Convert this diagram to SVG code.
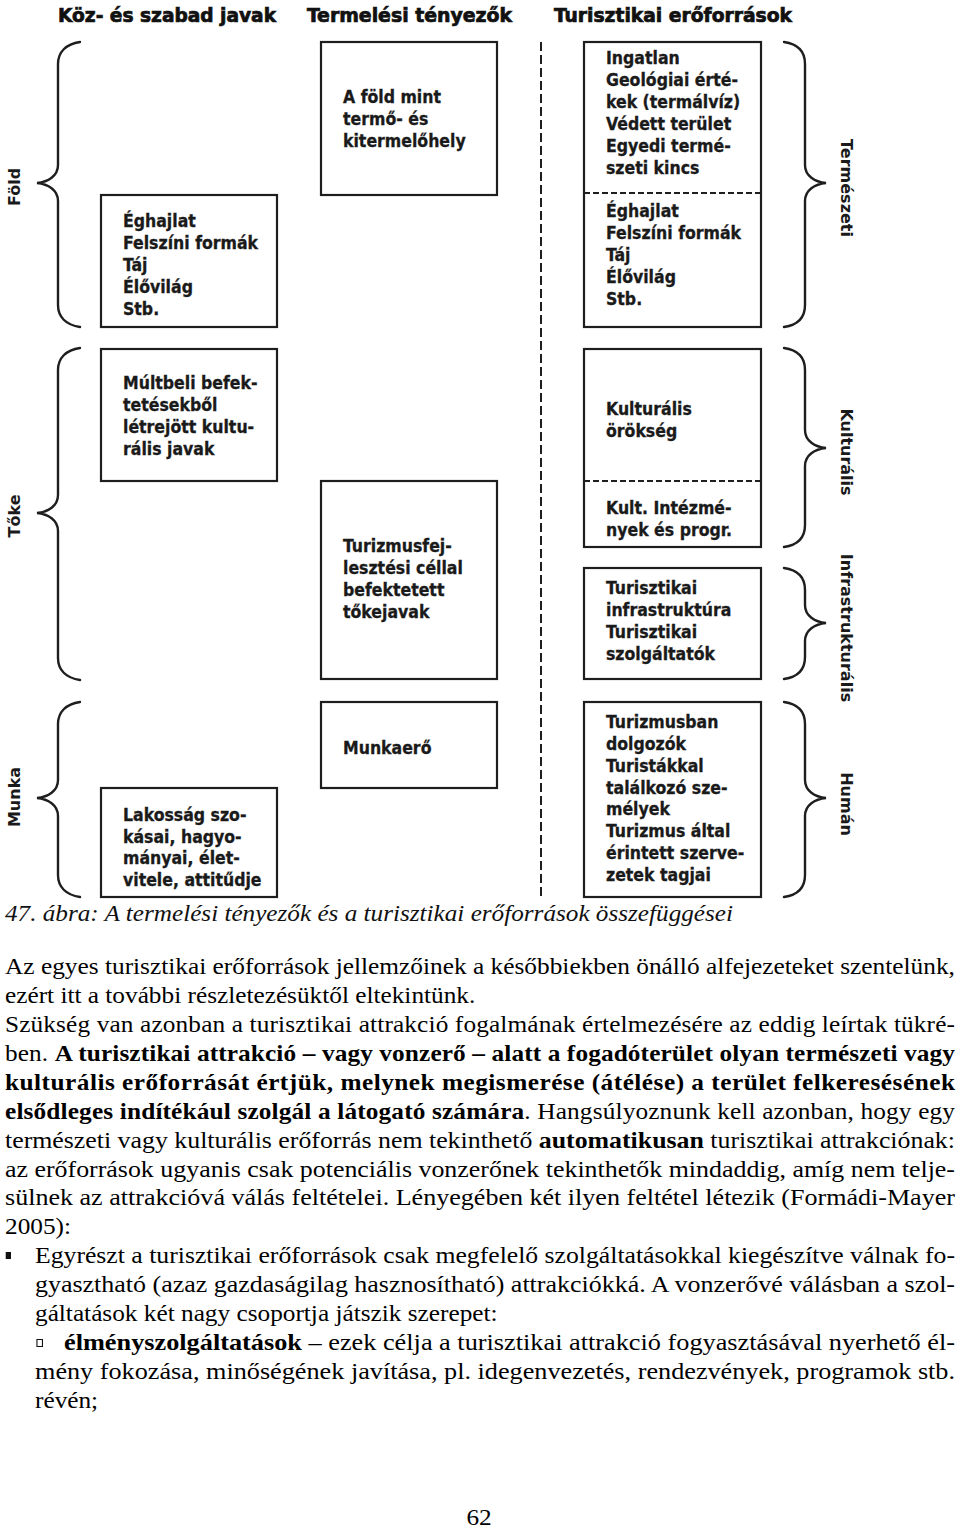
<svg xmlns="http://www.w3.org/2000/svg" width="960" height="1528" viewBox="0 0 960 1528">
<style>
.bg{fill:#fff}
.box{fill:#fff;stroke:#1e1e1e;stroke-width:2.2}
.sep{stroke:#1e1e1e;stroke-width:1.8;stroke-dasharray:6 3;fill:none}
.div{stroke:#1e1e1e;stroke-width:2;stroke-dasharray:9 4;fill:none}
.brace{fill:none;stroke:#1e1e1e;stroke-width:2.4;stroke-linecap:round}
.t{font-family:"DejaVu Sans Condensed","DejaVu Sans","Liberation Sans",sans-serif;font-weight:bold;font-size:17.5px;fill:#1a1a1a;stroke:#1a1a1a;stroke-width:0.3}
.h{font-family:"DejaVu Sans Condensed","DejaVu Sans","Liberation Sans",sans-serif;font-weight:bold;font-size:20px;fill:#111;stroke:#111;stroke-width:0.7}
.lab{font-family:"DejaVu Sans","Liberation Sans",sans-serif;font-weight:bold;font-size:16px;fill:#1a1a1a;text-anchor:middle}
.p{font-family:"Liberation Serif","Times New Roman",serif;font-size:23px;fill:#000}
.b{font-weight:bold}
.cap{font-family:"Liberation Serif","Times New Roman",serif;font-style:italic;font-size:23px;fill:#111}
</style>
<rect class="bg" x="0" y="0" width="960" height="1528"/>

<g id="headers">
<text class="h" x="58" y="22" textLength="218" lengthAdjust="spacingAndGlyphs">Köz- és szabad javak</text>
<text class="h" x="307" y="22" textLength="205" lengthAdjust="spacingAndGlyphs">Termelési tényezők</text>
<text class="h" x="554" y="22" textLength="238" lengthAdjust="spacingAndGlyphs">Turisztikai erőforrások</text>
</g>

<g id="divider"><line class="div" x1="541" y1="42" x2="541" y2="897"/></g>

<g id="connectors">
<path class="brace" d="M80,42 C66,44 58,52 58,64 L58,165 C58,176 48,182 37,183 C48,184 58,190 58,201 L58,305 C58,317 66,325 80,327"/>
<path class="brace" d="M80,348 C66,350 58,358 58,370 L58,495 C58,506 48,512 37,513 C48,514 58,520 58,531 L58,658 C58,670 66,678 80,680"/>
<path class="brace" d="M80,702 C66,704 58,712 58,724 L58,780 C58,791 48,797 37,798 C48,799 58,805 58,816 L58,875 C58,887 66,895 80,897"/>
<path class="brace" d="M784,42 C798,44 805,52 805,64 L805,165 C805,176 815,182 826,183 C815,184 805,190 805,201 L805,305 C805,317 798,325 784,327"/>
<path class="brace" d="M784,348 C798,350 805,358 805,370 L805,430 C805,441 815,447 826,448 C815,449 805,455 805,466 L805,525 C805,537 798,545 784,547"/>
<path class="brace" d="M784,568 C798,570 805,578 805,590 L805,605 C805,616 815,622 826,623 C815,624 805,630 805,641 L805,657 C805,669 798,677 784,679"/>
<path class="brace" d="M784,702 C798,704 805,712 805,724 L805,780 C805,791 815,797 826,798 C815,799 805,805 805,816 L805,875 C805,887 798,895 784,897"/>
</g>

<g id="labels">
<text class="lab" transform="translate(20,187) rotate(-90)">Föld</text>
<text class="lab" transform="translate(20,516) rotate(-90)">Tőke</text>
<text class="lab" transform="translate(20,797) rotate(-90)">Munka</text>
<text class="lab" transform="translate(841,188) rotate(90)">Természeti</text>
<text class="lab" transform="translate(841,452) rotate(90)">Kulturális</text>
<text class="lab" transform="translate(841,628) rotate(90)">Infrastrukturális</text>
<text class="lab" transform="translate(841,804) rotate(90)">Humán</text>
</g>

<g id="node-fold-javak">
<rect class="box" x="101" y="195" width="176" height="132"/>
<text class="t" x="123" y="227">Éghajlat</text>
<text class="t" x="123" y="249">Felszíni formák</text>
<text class="t" x="123" y="271">Táj</text>
<text class="t" x="123" y="293">Élővilág</text>
<text class="t" x="123" y="315">Stb.</text>
</g>

<g id="node-fold-tenyezo">
<rect class="box" x="321" y="42" width="176" height="153"/>
<text class="t" x="343" y="103">A föld mint</text>
<text class="t" x="343" y="125">termő- és</text>
<text class="t" x="343" y="147">kitermelőhely</text>
</g>

<g id="node-termeszeti">
<rect class="box" x="584" y="42" width="177" height="285"/>
<line class="sep" x1="584" y1="193" x2="761" y2="193"/>
<text class="t" x="606" y="64">Ingatlan</text>
<text class="t" x="606" y="86">Geológiai érté-</text>
<text class="t" x="606" y="108">kek (termálvíz)</text>
<text class="t" x="606" y="130">Védett terület</text>
<text class="t" x="606" y="152">Egyedi termé-</text>
<text class="t" x="606" y="174">szeti kincs</text>
<text class="t" x="606" y="217">Éghajlat</text>
<text class="t" x="606" y="239">Felszíni formák</text>
<text class="t" x="606" y="261">Táj</text>
<text class="t" x="606" y="283">Élővilág</text>
<text class="t" x="606" y="305">Stb.</text>
</g>

<g id="node-toke-javak">
<rect class="box" x="101" y="349" width="176" height="132"/>
<text class="t" x="123" y="389">Múltbeli befek-</text>
<text class="t" x="123" y="411">tetésekből</text>
<text class="t" x="123" y="433">létrejött kultu-</text>
<text class="t" x="123" y="455">rális javak</text>
</g>

<g id="node-toke-tenyezo">
<rect class="box" x="321" y="481" width="176" height="198"/>
<text class="t" x="343" y="552">Turizmusfej-</text>
<text class="t" x="343" y="574">lesztési céllal</text>
<text class="t" x="343" y="596">befektetett</text>
<text class="t" x="343" y="618">tőkejavak</text>
</g>

<g id="node-kulturalis">
<rect class="box" x="584" y="349" width="177" height="198"/>
<line class="sep" x1="584" y1="481" x2="761" y2="481"/>
<text class="t" x="606" y="415">Kulturális</text>
<text class="t" x="606" y="437">örökség</text>
<text class="t" x="606" y="514">Kult. Intézmé-</text>
<text class="t" x="606" y="536">nyek és progr.</text>
</g>

<g id="node-infrastrukturalis">
<rect class="box" x="584" y="568" width="177" height="111"/>
<text class="t" x="606" y="594">Turisztikai</text>
<text class="t" x="606" y="616">infrastruktúra</text>
<text class="t" x="606" y="638">Turisztikai</text>
<text class="t" x="606" y="660">szolgáltatók</text>
</g>

<g id="node-munka-tenyezo">
<rect class="box" x="321" y="702" width="176" height="86"/>
<text class="t" x="343" y="754">Munkaerő</text>
</g>

<g id="node-munka-javak">
<rect class="box" x="101" y="788" width="176" height="109"/>
<text class="t" x="123" y="821">Lakosság szo-</text>
<text class="t" x="123" y="843">kásai, hagyo-</text>
<text class="t" x="123" y="864">mányai, élet-</text>
<text class="t" x="123" y="886">vitele, attitűdje</text>
</g>

<g id="node-human">
<rect class="box" x="584" y="702" width="177" height="195"/>
<text class="t" x="606" y="728">Turizmusban</text>
<text class="t" x="606" y="750">dolgozók</text>
<text class="t" x="606" y="772">Turistákkal</text>
<text class="t" x="606" y="794">találkozó sze-</text>
<text class="t" x="606" y="815">mélyek</text>
<text class="t" x="606" y="837">Turizmus által</text>
<text class="t" x="606" y="859">érintett szerve-</text>
<text class="t" x="606" y="881">zetek tagjai</text>
</g>

<g id="body" transform="scale(1.1,1)">
<text class="cap" x="4.55" y="921" textLength="661.8" lengthAdjust="spacingAndGlyphs">47. ábra: A termelési tényezők és a turisztikai erőforrások összefüggései</text>
<text class="p" x="4.55" y="974" textLength="863.6" lengthAdjust="spacingAndGlyphs">Az egyes turisztikai erőforrások jellemzőinek a későbbiekben önálló alfejezeteket szentelünk,</text>
<text class="p" x="4.55" y="1003">ezért itt a további részletezésüktől eltekintünk.</text>
<text class="p" x="4.55" y="1032" textLength="863.6" lengthAdjust="spacing">Szükség van azonban a turisztikai attrakció fogalmának értelmezésére az eddig leírtak tükré-</text>
<text class="p" x="4.55" y="1061" textLength="863.6" lengthAdjust="spacing">ben. <tspan class="b">A turisztikai attrakció – vagy vonzerő – alatt a fogadóterület olyan természeti vagy</tspan></text>
<text class="p b" x="4.55" y="1090" textLength="863.6" lengthAdjust="spacing">kulturális erőforrását értjük, melynek megismerése (átélése) a terület felkeresésének</text>
<text class="p" x="4.55" y="1119" textLength="863.6" lengthAdjust="spacing"><tspan class="b">elsődleges indítékául szolgál a látogató számára</tspan>. Hangsúlyoznunk kell azonban, hogy egy</text>
<text class="p" x="4.55" y="1148" textLength="863.6" lengthAdjust="spacingAndGlyphs">természeti vagy kulturális erőforrás nem tekinthető <tspan class="b">automatikusan</tspan> turisztikai attrakciónak:</text>
<text class="p" x="4.55" y="1177" textLength="863.6" lengthAdjust="spacingAndGlyphs">az erőforrások ugyanis csak potenciális vonzerőnek tekinthetők mindaddig, amíg nem telje-</text>
<text class="p" x="4.55" y="1205" textLength="863.6" lengthAdjust="spacingAndGlyphs">sülnek az attrakcióvá válás feltételei. Lényegében két ilyen feltétel létezik (Formádi-Mayer</text>
<text class="p" x="4.55" y="1234">2005):</text>
<rect x="5.2" y="1252" width="4.8" height="7" fill="#111"/>
<text class="p" x="31.82" y="1263" textLength="836.4" lengthAdjust="spacingAndGlyphs">Egyrészt a turisztikai erőforrások csak megfelelő szolgáltatásokkal kiegészítve válnak fo-</text>
<text class="p" x="31.82" y="1292" textLength="836.4" lengthAdjust="spacingAndGlyphs">gyasztható (azaz gazdaságilag hasznosítható) attrakciókká. A vonzerővé válásban a szol-</text>
<text class="p" x="31.82" y="1321">gáltatások két nagy csoportja játszik szerepet:</text>
<rect x="33.6" y="1339.5" width="5" height="7" fill="none" stroke="#111" stroke-width="1"/>
<text class="p" x="58.18" y="1350" textLength="810" lengthAdjust="spacingAndGlyphs"><tspan class="b">élményszolgáltatások</tspan> – ezek célja a turisztikai attrakció fogyasztásával nyerhető él-</text>
<text class="p" x="31.82" y="1379" textLength="836.4" lengthAdjust="spacingAndGlyphs">mény fokozása, minőségének javítása, pl. idegenvezetés, rendezvények, programok stb.</text>
<text class="p" x="31.82" y="1408">révén;</text>
<text class="p" x="435.5" y="1525" text-anchor="middle">62</text>
</g>
</svg>
